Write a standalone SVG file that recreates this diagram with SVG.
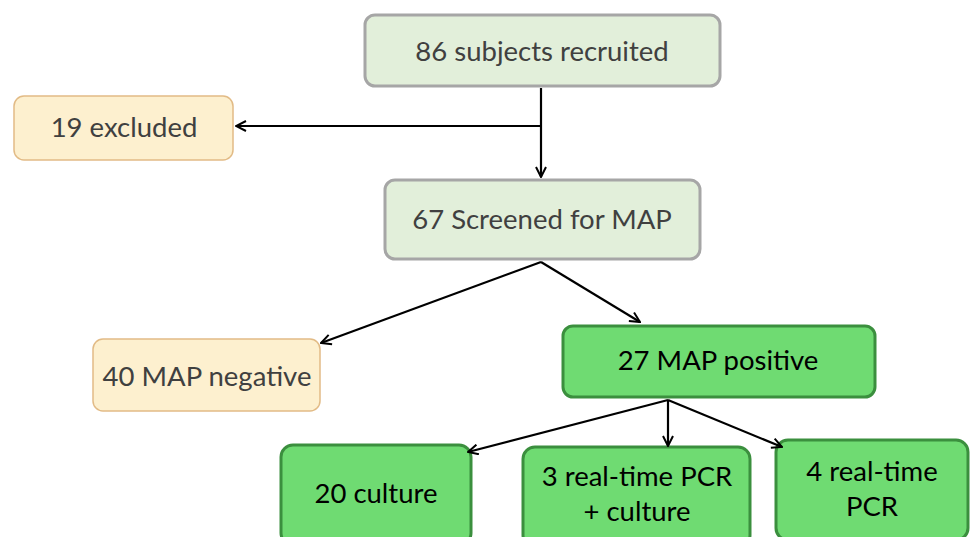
<svg xmlns="http://www.w3.org/2000/svg" width="971" height="537" viewBox="0 0 971 537">
<defs>
<marker id="ah" viewBox="0 0 12 12" refX="11" refY="6" markerWidth="12" markerHeight="12" markerUnits="userSpaceOnUse" orient="auto">
<path d="M1,1 L11,6 L1,11" fill="none" stroke="#000" stroke-width="2"/>
</marker>
<style>
.gray{fill:#e2efda;stroke:#a6a6a6;stroke-width:3}
.tan{fill:#fdf0cf;stroke:#e2bb86;stroke-width:1.5}
.green{fill:#6fdb72;stroke:#3b8f3e;stroke-width:3}
text{font-family:Lato,"Open Sans",sans-serif;font-size:27.5px;text-anchor:middle}
.t1{fill:#404040}
.t2{fill:#000}
.c{fill:none;stroke:#000;stroke-width:2.2}
</style>
</defs>
<g id="n86"><rect class="gray" x="365" y="15" width="355" height="71" rx="10"/><text class="t1" x="542" y="61">86 subjects recruited</text></g>
<g id="n19"><rect class="tan" x="14" y="96" width="219" height="64" rx="10"/><text class="t1" x="124" y="137">19 excluded</text></g>
<g id="n67"><rect class="gray" x="385" y="180" width="315" height="79" rx="10"/><text class="t1" x="542" y="229">67 Screened for MAP</text></g>
<g id="n40"><rect class="tan" x="93" y="339" width="227" height="72" rx="10"/><text class="t1" x="207" y="386">40 MAP negative</text></g>
<g id="n27"><rect class="green" x="563" y="326" width="312" height="71" rx="10"/><text class="t2" x="718" y="370">27 MAP positive</text></g>
<g id="n20"><rect class="green" x="281" y="445" width="190" height="100" rx="12"/><text class="t2" x="376" y="503">20 culture</text></g>
<g id="n3"><rect class="green" x="523" y="447" width="227" height="100" rx="12"/><text class="t2" x="637" y="486">3 real-time PCR</text><text class="t2" x="637" y="521">+ culture</text></g>
<g id="n4"><rect class="green" x="776" y="440" width="192" height="100" rx="12"/><text class="t2" x="872" y="481">4 real-time</text><text class="t2" x="872" y="516">PCR</text></g>
<g id="connectors">
<path class="c" d="M541,88 V177" marker-end="url(#ah)"/>
<path class="c" d="M541,126 H236" marker-end="url(#ah)"/>
<path class="c" d="M541,262 L321,343" marker-end="url(#ah)"/>
<path class="c" d="M541,262 L640,322" marker-end="url(#ah)"/>
<path class="c" d="M668,400 L468,452" marker-end="url(#ah)"/>
<path class="c" d="M668,400 V446" marker-end="url(#ah)"/>
<path class="c" d="M668,400 L782,447" marker-end="url(#ah)"/>
</g>
</svg>
